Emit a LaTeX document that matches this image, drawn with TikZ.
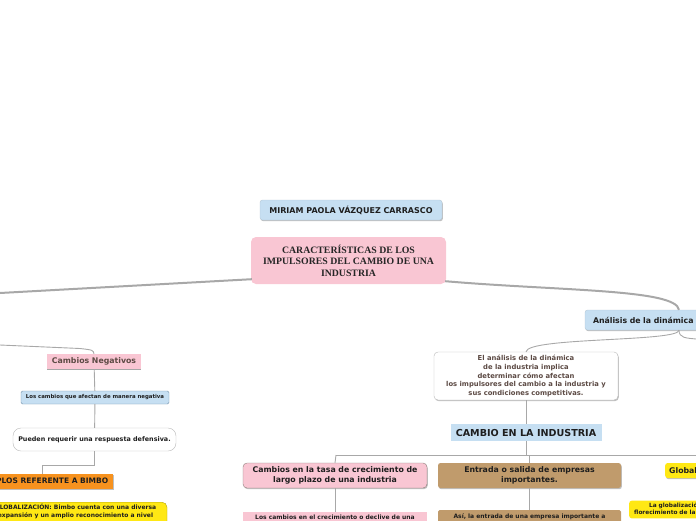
\documentclass[tikz,border=0pt]{standalone}
\usepackage{fontspec}
\setmainfont{DejaVu Sans}
\newfontfamily\timesfont{Liberation Serif}
\usepackage{xcolor}
\usepackage{tikz}
\usetikzlibrary{positioning, shadows, calc}
\definecolor{mapblue}{RGB}{198, 223, 242}
\definecolor{mapblueline}{RGB}{118, 148, 172}
\definecolor{mappink}{RGB}{249, 198, 211}
\definecolor{maptan}{RGB}{192, 155, 108}
\definecolor{mapyellow}{RGB}{255, 232, 20}
\definecolor{maporange}{RGB}{247, 146, 30}
\definecolor{mapline}{RGB}{168, 168, 168}
\definecolor{darktext}{RGB}{30, 30, 30}
\definecolor{browntext}{RGB}{92, 74, 68}
\newcommand{\mapfont}[2]{\fontsize{#1}{#2}\selectfont\bfseries}

\begin{document}
\begin{tikzpicture}[x=1pt, y=-1pt,
    box/.style={rectangle, rounded corners=2.5pt, align=center,
                inner sep=2pt, text=darktext},
    shade/.style={drop shadow={shadow xshift=0.8pt, shadow yshift=-1.2pt,
                  opacity=0.25, fill=black}},
    link/.style={draw=mapline, line width=0.9pt},
    trunk/.style={draw=mapline, line width=2pt}
]
\useasboundingbox (0,0) rectangle (696,520);
\clip (0,0) rectangle (696,520);

%% Title and central topic
\node[box, shade, fill=mapblue, draw=mapblue!75!gray, minimum width=182,
      minimum height=20, font=\mapfont{8}{9}] (autor) at (351,210)
      {MIRIAM PAOLA VÁZQUEZ CARRASCO};
\node[box, fill=mappink, rounded corners=5pt, minimum width=195,
      minimum height=47, text=black!85,
      font=\timesfont\mapfont{9.8}{11.5}] (central) at (348.5,260.5)
      {CARACTERÍSTICAS DE LOS\\IMPULSORES DEL CAMBIO DE UNA\\INDUSTRIA};

%% Right branch
\node[box, shade, fill=mapblue, draw=mapblue!75!gray, minimum width=188,
      minimum height=20, text width=172, align=left,
      font=\mapfont{7.8}{9}] (analisis) at (679,320) {Análisis de la dinámica};
\node[box, shade, fill=white, draw=gray!55, rounded corners=4pt,
      minimum width=184, minimum height=48, text=browntext,
      font=\mapfont{6.8}{8.8}] (dinamica) at (526,376)
      {El análisis de la dinámica\\de la industria implica\\determinar cómo afectan\\
       los impulsores del cambio a la industria y\\sus condiciones competitivas.};
\node[box, fill=mapblue, rounded corners=0pt, minimum width=151,
      minimum height=17, font=\mapfont{9.6}{11}] (cambio) at (526,432.5)
      {CAMBIO EN LA INDUSTRIA};

\node[box, shade, fill=mappink, draw=browntext!70, rounded corners=4pt,
      minimum width=184, minimum height=25, font=\mapfont{7.8}{10}]
      (tasa) at (335,475.5)
      {Cambios en la tasa de crecimiento de\\largo plazo de una industria};
\node[box, fill=mappink, rounded corners=0pt, minimum width=184,
      anchor=north, inner ysep=3pt, font=\mapfont{6}{7}] (crecimiento) at (335,512)
      {Los cambios en el crecimiento o declive de una};
\node[box, shade, fill=maptan, minimum width=183, minimum height=25,
      font=\mapfont{7.8}{10}] (entrada) at (529.5,475.5)
      {Entrada o salida de empresas\\importantes.};
\node[box, fill=maptan, rounded corners=1.5pt, minimum width=183,
      anchor=north, inner ysep=3.5pt, font=\mapfont{6}{7}] (asi) at (529.5,510)
      {Así, la entrada de una empresa importante a};
\node[box, shade, fill=mapyellow, anchor=west, minimum height=15,
      minimum width=80, text width=72, align=left, inner xsep=4pt,
      font=\mapfont{7.8}{9}] (globalizacion) at (665,470.5) {Globalización};
\node[box, fill=mapyellow, anchor=north west, minimum width=120,
      text width=110, align=left, inner ysep=2.5pt, text depth=8pt,
      font=\mapfont{5.8}{6.8}] (florecimiento) at (629,500.5)
      {\hspace*{15pt}La globalización\\florecimiento de la};

%% Left branch
\node[box, fill=mappink, rounded corners=0pt, minimum width=94,
      minimum height=15, text=browntext, font=\mapfont{7.8}{9}]
      (negativos) at (94,361.5) {Cambios Negativos};
\node[box, fill=mapblue, draw=mapblueline, rounded corners=1.5pt,
      minimum width=148, minimum height=13, font=\mapfont{5.4}{6}]
      (afectan) at (95,397.5) {Los cambios que afectan de manera negativa};
\node[box, fill=white, draw=gray!55, rounded corners=8pt, minimum width=163,
      minimum height=23, font=\mapfont{6.4}{7}] (defensiva) at (94.5,439.5)
      {Pueden requerir una respuesta defensiva.};
\node[box, shade, fill=maporange, rounded corners=0pt, minimum width=142,
      minimum height=15, font=\mapfont{7.5}{9}] (ejemplos) at (42,481.5)
      {EJEMPLOS REFERENTE A BIMBO};
\node[box, fill=mapyellow, draw=mapyellow!70!black, rounded corners=5pt,
      anchor=north, minimum width=183, inner ysep=2pt, text depth=10pt,
      font=\mapfont{6}{7.5}] (bimbo) at (75.5,502)
      {GLOBALIZACIÓN: Bimbo cuenta con una diversa\\
       expansión y un amplio reconocimiento a nivel};

%% Free ends at the frame
\coordinate (bordeL) at (0,293);
\coordinate (bordeL2) at (0,345);
\coordinate (bordeR) at (696,339);
\coordinate (barraL) at (336,455);
\coordinate (barraR) at (696,455);

%% Connectors
\draw[trunk] ($(central.south west)+(1,-5)$) -- (bordeL);
\draw[trunk] ($(central.south east)+(-1,-3)$) .. controls (560,291) and (676,289) .. (analisis.north);
\draw[link] (analisis.south) .. controls (679,342) and (527,337) .. (dinamica.north);
\draw[link] (analisis.south) .. controls (679,338) and (686,338) .. (bordeR);
\draw[link] (dinamica) -- (cambio);
\draw[link] (cambio.south) -- (cambio.south |- barraL);
\draw[link] (barraL) -- (barraR);
\draw[link] (barraL) -- (tasa.north);
\draw[link] (entrada.north |- barraL) -- (entrada.north);
\draw[link] (tasa) -- (crecimiento);
\draw[link] (entrada) -- (asi);

\draw[link] (bordeL2) -- (80,348.5) .. controls (93,350) .. (negativos.north);
\draw[gray!70, line width=0.8pt] (negativos.south west) -- (negativos.south east);
\draw[link] (negativos) -- (afectan);
\draw[link] (afectan) -- (defensiva);
\draw[link] (defensiva.south) -- ++(0,14) -| (ejemplos.north);

\end{tikzpicture}
\end{document}
